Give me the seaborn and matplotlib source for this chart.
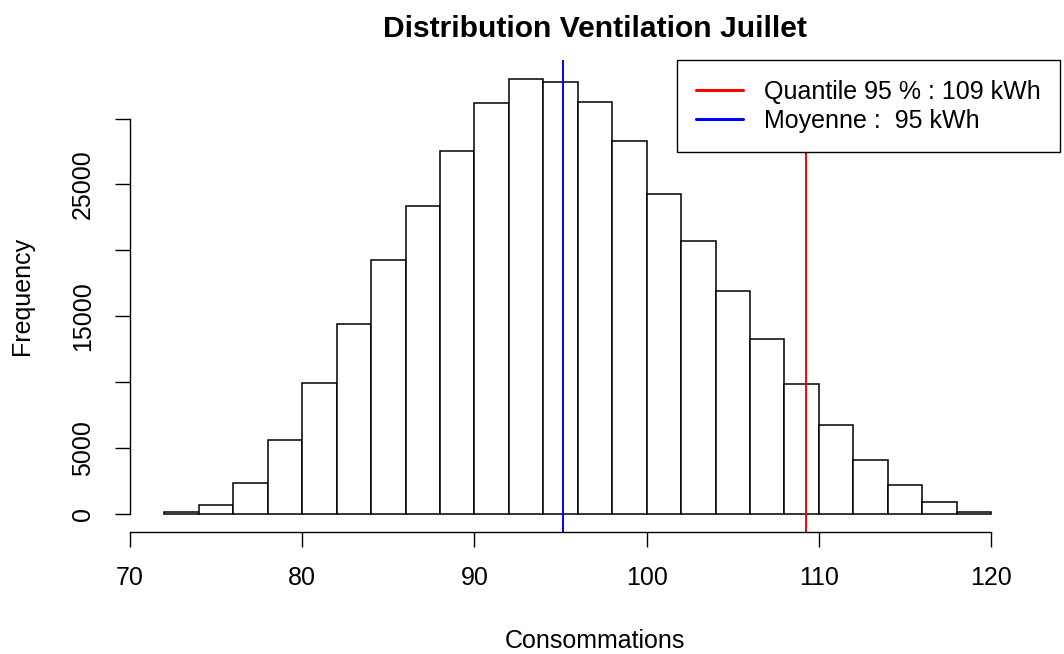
import numpy as np
import pandas as pd
import matplotlib
matplotlib.use("Agg")
import matplotlib.pyplot as plt
from matplotlib.lines import Line2D
import seaborn as sns

bin_edges = [72, 74, 76, 78, 80, 82, 84, 86, 88, 90, 92, 94, 96, 98, 100,
             102, 104, 106, 108, 110, 112, 114, 116, 118, 120]
counts = [150, 680, 2370, 5640, 9940, 14420, 19270, 23370, 27540, 31160,
          32980, 32750, 31280, 28280, 24260, 20710, 16920, 13280, 9890,
          6750, 4070, 2220, 910, 175]
moyenne = 95.15
quantile_95 = 109.25

xticks = [70, 80, 90, 100, 110, 120]
yticks = [0, 5000, 10000, 15000, 20000, 25000, 30000]
ytick_labels = ["0", "5000", "", "15000", "", "25000", ""]

df = pd.DataFrame({"Consommations": bin_edges[:-1], "n": counts})

sns.set_theme(style="ticks")
plt.rcParams["font.family"] = ["Liberation Sans", "DejaVu Sans"]

fig = plt.figure(figsize=(10.64, 6.54), dpi=100)
ax = fig.add_axes([130 / 1064, 122 / 654, 930 / 1064, 472 / 654])

# histogramme (effectifs en poids)
sns.histplot(data=df, x="Consommations", weights="n", bins=bin_edges,
             color="white", edgecolor="black", linewidth=1.1, alpha=1, ax=ax)

ax.axvline(quantile_95, color="red", lw=1.4)
ax.axvline(moyenne, color="blue", lw=1.4)

ax.set_xlim(70, 124)
ax.set_ylim(-1365, 34440)

# axes façon R
sns.despine(ax=ax)
ax.spines["left"].set_bounds(0, 30000)
ax.spines["bottom"].set_bounds(70, 120)
for s in ["left", "bottom"]:
    ax.spines[s].set_color("black")
    ax.spines[s].set_linewidth(1.0)

ax.set_xticks(xticks)
ax.set_yticks(yticks, labels=ytick_labels)
ax.tick_params(axis="both", direction="out", length=10.8, width=1.0,
               color="black", labelcolor="black", labelsize=18)
ax.tick_params(axis="x", pad=13.5)
ax.tick_params(axis="y", pad=14.5)
for lab in ax.get_yticklabels():
    lab.set_rotation(90)
    lab.set_va("center")

ax.set_xlabel("Consommations", fontsize=18, color="black")
ax.set_ylabel("Frequency", fontsize=18, color="black")
ax.xaxis.label.set_va("center")
ax.yaxis.label.set_va("center")
ax.xaxis.set_label_coords(0.5, -(641 - 532) / 472)
ax.yaxis.set_label_coords((22 - 130) / 930, 0.5)

ax.set_title("Distribution Ventilation Juillet", fontsize=21.6,
             fontweight="bold", color="black", pad=0, y=1 + 31 / 472,
             va="center")

handles = [Line2D([], [], color="red", lw=2.2),
           Line2D([], [], color="blue", lw=2.2)]
labels = ["Quantile 95 % : 109 kWh", "Moyenne :  95 kWh"]
leg = ax.legend(handles, labels, loc="upper right", bbox_to_anchor=(1, 1),
                borderaxespad=0, fontsize=18, fancybox=False, framealpha=1,
                edgecolor="black", labelcolor="black", handlelength=1.85,
                handletextpad=0.85, labelspacing=0.21, borderpad=0.78)
leg.get_frame().set_linewidth(1.0)

plt.savefig("out.png", dpi=100)
